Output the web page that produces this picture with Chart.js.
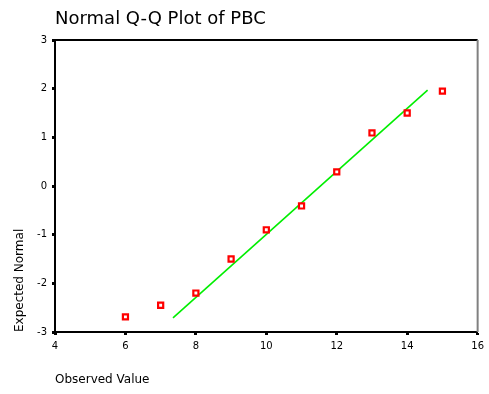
<!DOCTYPE html>
<html><head><meta charset="utf-8">
<script src="https://cdn.jsdelivr.net/npm/chart.js@4"></script>
<style>html,body{margin:0;padding:0;background:#fff}#wrap{width:489px;height:394px}</style>
</head><body><div id="wrap"><canvas id="c" width="489" height="394"></canvas></div>
<script>
const titleText = "Normal Q-Q Plot of PBC";
const xTitle = "Observed Value";
const yTitle = "Expected Normal";
const observed = [6, 7, 8, 9, 10, 11, 12, 13, 14, 15];
const expectedNormal = [-2.69, -2.45, -2.2, -1.5, -0.9, -0.41, 0.29, 1.09, 1.5, 1.95];
const lineX = [7.35, 14.58];
const lineY = [-2.71, 1.97];
const xTicks = [4, 6, 8, 10, 12, 14, 16];
const yTicks = [-3, -2, -1, 0, 1, 2, 3];
const FONT = "Tahoma, 'DejaVu Sans', sans-serif";

const frame = {
  id: 'frame',
  afterDatasetsDraw(chart) {
    const {ctx, chartArea: a} = chart;
    ctx.save();
    ctx.strokeStyle = '#000'; ctx.lineWidth = 2;
    ctx.beginPath(); ctx.moveTo(a.left, a.top); ctx.lineTo(a.right, a.top); ctx.stroke();
    ctx.strokeStyle = '#808080';
    ctx.beginPath(); ctx.moveTo(a.right, a.top); ctx.lineTo(a.right, a.bottom); ctx.stroke();
    ctx.restore();
  },
  afterDraw(chart) {
    const ctx = chart.ctx;
    ctx.save();
    ctx.fillStyle = '#000';
    ctx.font = "18px " + FONT;
    ctx.textBaseline = 'alphabetic';
    ctx.textAlign = 'left';
    ctx.fillText(titleText, 55, 24);
    ctx.restore();
  }
};

new Chart(document.getElementById('c'), {
  type: 'scatter',
  data: {
    datasets: [
      {
        data: observed.map((x, i) => ({x, y: expectedNormal[i]})),
        pointStyle: 'rect', pointRadius: 3.6, pointHoverRadius: 3.6,
        borderColor: '#ff0000', backgroundColor: '#ffffff', borderWidth: 2.2, showLine: false
      },
      {
        data: lineX.map((x, i) => ({x, y: lineY[i]})),
        showLine: true, borderColor: '#00ee00', borderWidth: 1.6, pointRadius: 0, fill: false
      }
    ]
  },
  options: {
    responsive: false, animation: false,
    layout: {padding: {left: 0, right: 11, top: 40, bottom: 0}},
    plugins: {legend: {display: false}, tooltip: {enabled: false}, title: {display: false}},
    scales: {
      x: {
        type: 'linear', min: 4, max: 16,
        afterBuildTicks: s => { s.ticks = xTicks.map(v => ({value: v})); },
        afterFit: s => { s.height = 62; },
        grid: {drawOnChartArea: false, drawTicks: true, tickLength: 3, tickWidth: 3, tickColor: '#000'},
        border: {display: true, color: '#000', width: 2},
        ticks: {color: '#000', font: {family: FONT, size: 10}, padding: 5, maxRotation: 0},
        title: {display: true, text: xTitle, align: 'start', color: '#000', font: {family: FONT, size: 12}, padding: {top: 0, bottom: 7}}
      },
      y: {
        type: 'linear', min: -3, max: 3,
        afterBuildTicks: s => { s.ticks = yTicks.map(v => ({value: v})); },
        afterFit: s => { s.width = 55; },
        grid: {drawOnChartArea: false, drawTicks: true, tickLength: 3, tickWidth: 3, tickColor: '#000'},
        border: {display: true, color: '#000', width: 2},
        ticks: {color: '#000', font: {family: FONT, size: 10}, padding: 5},
        title: {display: true, text: yTitle, align: 'start', color: '#000', font: {family: FONT, size: 12}, padding: {top: 13, bottom: 0}}
      }
    }
  },
  plugins: [frame]
});
</script></body></html>
